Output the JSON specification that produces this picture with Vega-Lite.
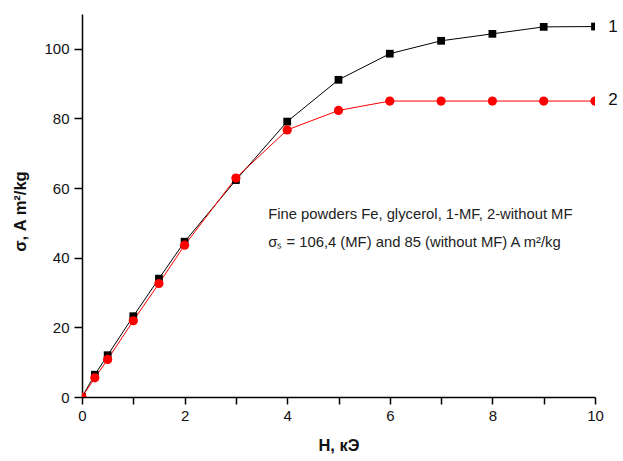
{
  "$schema": "https://vega.github.io/schema/vega-lite/v6.json",
  "width": 513,
  "height": 383,
  "autosize": "none",
  "padding": {"left": 82, "top": 14, "right": 28, "bottom": 64},
  "background": "white",
  "config": {
    "view": {"stroke": null},
    "font": "Liberation Sans",
    "axis": {
      "grid": false,
      "domainColor": "black",
      "domainWidth": 1.5,
      "tickColor": "black",
      "tickWidth": 1.5,
      "labelFlush": false,
      "labelFont": "Liberation Sans",
      "labelFontSize": 15,
      "labelColor": "#111",
      "titleFont": "Liberation Sans",
      "titleFontSize": 16.5,
      "titleFontWeight": "bold",
      "titleColor": "#111"
    }
  },
  "datasets": {
    "curves": [
      {"H": 0, "sigma": 0, "series": "1"},
      {"H": 0.25, "sigma": 6.4, "series": "1"},
      {"H": 0.5, "sigma": 12.0, "series": "1"},
      {"H": 1, "sigma": 23.2, "series": "1"},
      {"H": 1.5, "sigma": 34.0, "series": "1"},
      {"H": 2, "sigma": 44.6, "series": "1"},
      {"H": 3, "sigma": 62.3, "series": "1"},
      {"H": 4, "sigma": 79.1, "series": "1"},
      {"H": 5, "sigma": 91.1, "series": "1"},
      {"H": 6, "sigma": 98.6, "series": "1"},
      {"H": 7, "sigma": 102.3, "series": "1"},
      {"H": 8, "sigma": 104.3, "series": "1"},
      {"H": 9, "sigma": 106.3, "series": "1"},
      {"H": 10, "sigma": 106.4, "series": "1"},
      {"H": 0, "sigma": 0, "series": "2"},
      {"H": 0.25, "sigma": 5.5, "series": "2"},
      {"H": 0.5, "sigma": 10.8, "series": "2"},
      {"H": 1, "sigma": 21.9, "series": "2"},
      {"H": 1.5, "sigma": 32.6, "series": "2"},
      {"H": 2, "sigma": 43.6, "series": "2"},
      {"H": 3, "sigma": 62.9, "series": "2"},
      {"H": 4, "sigma": 76.7, "series": "2"},
      {"H": 5, "sigma": 82.3, "series": "2"},
      {"H": 6, "sigma": 85, "series": "2"},
      {"H": 7, "sigma": 85, "series": "2"},
      {"H": 8, "sigma": 85, "series": "2"},
      {"H": 9, "sigma": 85, "series": "2"},
      {"H": 10, "sigma": 85, "series": "2"}
    ],
    "seriesLabels": [
      {"H": 10.35, "sigma": 106.3, "label": "1"},
      {"H": 10.35, "sigma": 85.3, "label": "2"}
    ],
    "notes": [
      {"H": 3.63, "sigma": 52.3, "text": "Fine powders Fe, glycerol, 1-MF, 2-without MF"},
      {"H": 3.63, "sigma": 44.2, "text": "σₛ = 106,4 (MF) and 85 (without MF) A m²/kg"}
    ]
  },
  "layer": [
    {
      "data": {"name": "curves"},
      "mark": {"type": "line", "strokeWidth": 1, "clip": true},
      "encoding": {
        "x": {"field": "H", "type": "quantitative",
              "scale": {"domain": [0, 10], "nice": false, "zero": false},
              "axis": {"orient": "bottom", "values": [0, 1, 2, 3, 4, 5, 6, 7, 8, 9, 10], "tickSize": 7,
                       "labelExpr": "datum.value % 2 === 0 ? datum.label : ''",
                       "labelPadding": 4, "title": "H, кЭ", "titlePadding": 14,
                       "encode": {"ticks": {"update": {"y2": {"signal": "datum.value % 2 === 0 ? 7 : 4"}}}}}},
        "y": {"field": "sigma", "type": "quantitative",
              "scale": {"domain": [0, 110], "nice": false},
              "axis": {"orient": "left", "values": [0, 10, 20, 30, 40, 50, 60, 70, 80, 90, 100], "tickSize": 8,
                       "labelExpr": "datum.value % 20 === 0 ? datum.label : ''",
                       "labelPadding": 5, "title": "σ, A m²/kg", "titlePadding": 15, "titleY": 197,
                       "encode": {"ticks": {"update": {"x2": {"signal": "datum.value % 20 === 0 ? -8 : -5"}}}}}},
        "color": {"field": "series", "type": "nominal",
                  "scale": {"domain": ["1", "2"], "range": ["#000000", "#ff0000"]}, "legend": null},
        "detail": {"field": "series"}
      }
    },
    {
      "data": {"name": "curves"},
      "mark": {"type": "point", "filled": true, "opacity": 1, "clip": true},
      "encoding": {
        "x": {"field": "H", "type": "quantitative"},
        "y": {"field": "sigma", "type": "quantitative"},
        "color": {"field": "series", "type": "nominal",
                  "scale": {"domain": ["1", "2"], "range": ["#000000", "#ff0000"]}, "legend": null},
        "shape": {"field": "series", "type": "nominal",
                  "scale": {"domain": ["1", "2"], "range": ["square", "circle"]}, "legend": null},
        "size": {"field": "series", "type": "ordinal",
                 "scale": {"domain": ["1", "2"], "range": [60, 85]}, "legend": null}
      }
    },
    {
      "data": {"name": "seriesLabels"},
      "mark": {"type": "text", "fontSize": 17, "align": "center", "baseline": "middle", "color": "#111"},
      "encoding": {
        "x": {"field": "H", "type": "quantitative"},
        "y": {"field": "sigma", "type": "quantitative"},
        "text": {"field": "label"}
      }
    },
    {
      "data": {"name": "notes"},
      "mark": {"type": "text", "fontSize": 14.8, "align": "left", "baseline": "middle", "color": "#222"},
      "encoding": {
        "x": {"field": "H", "type": "quantitative"},
        "y": {"field": "sigma", "type": "quantitative"},
        "text": {"field": "text"}
      }
    }
  ]
}
